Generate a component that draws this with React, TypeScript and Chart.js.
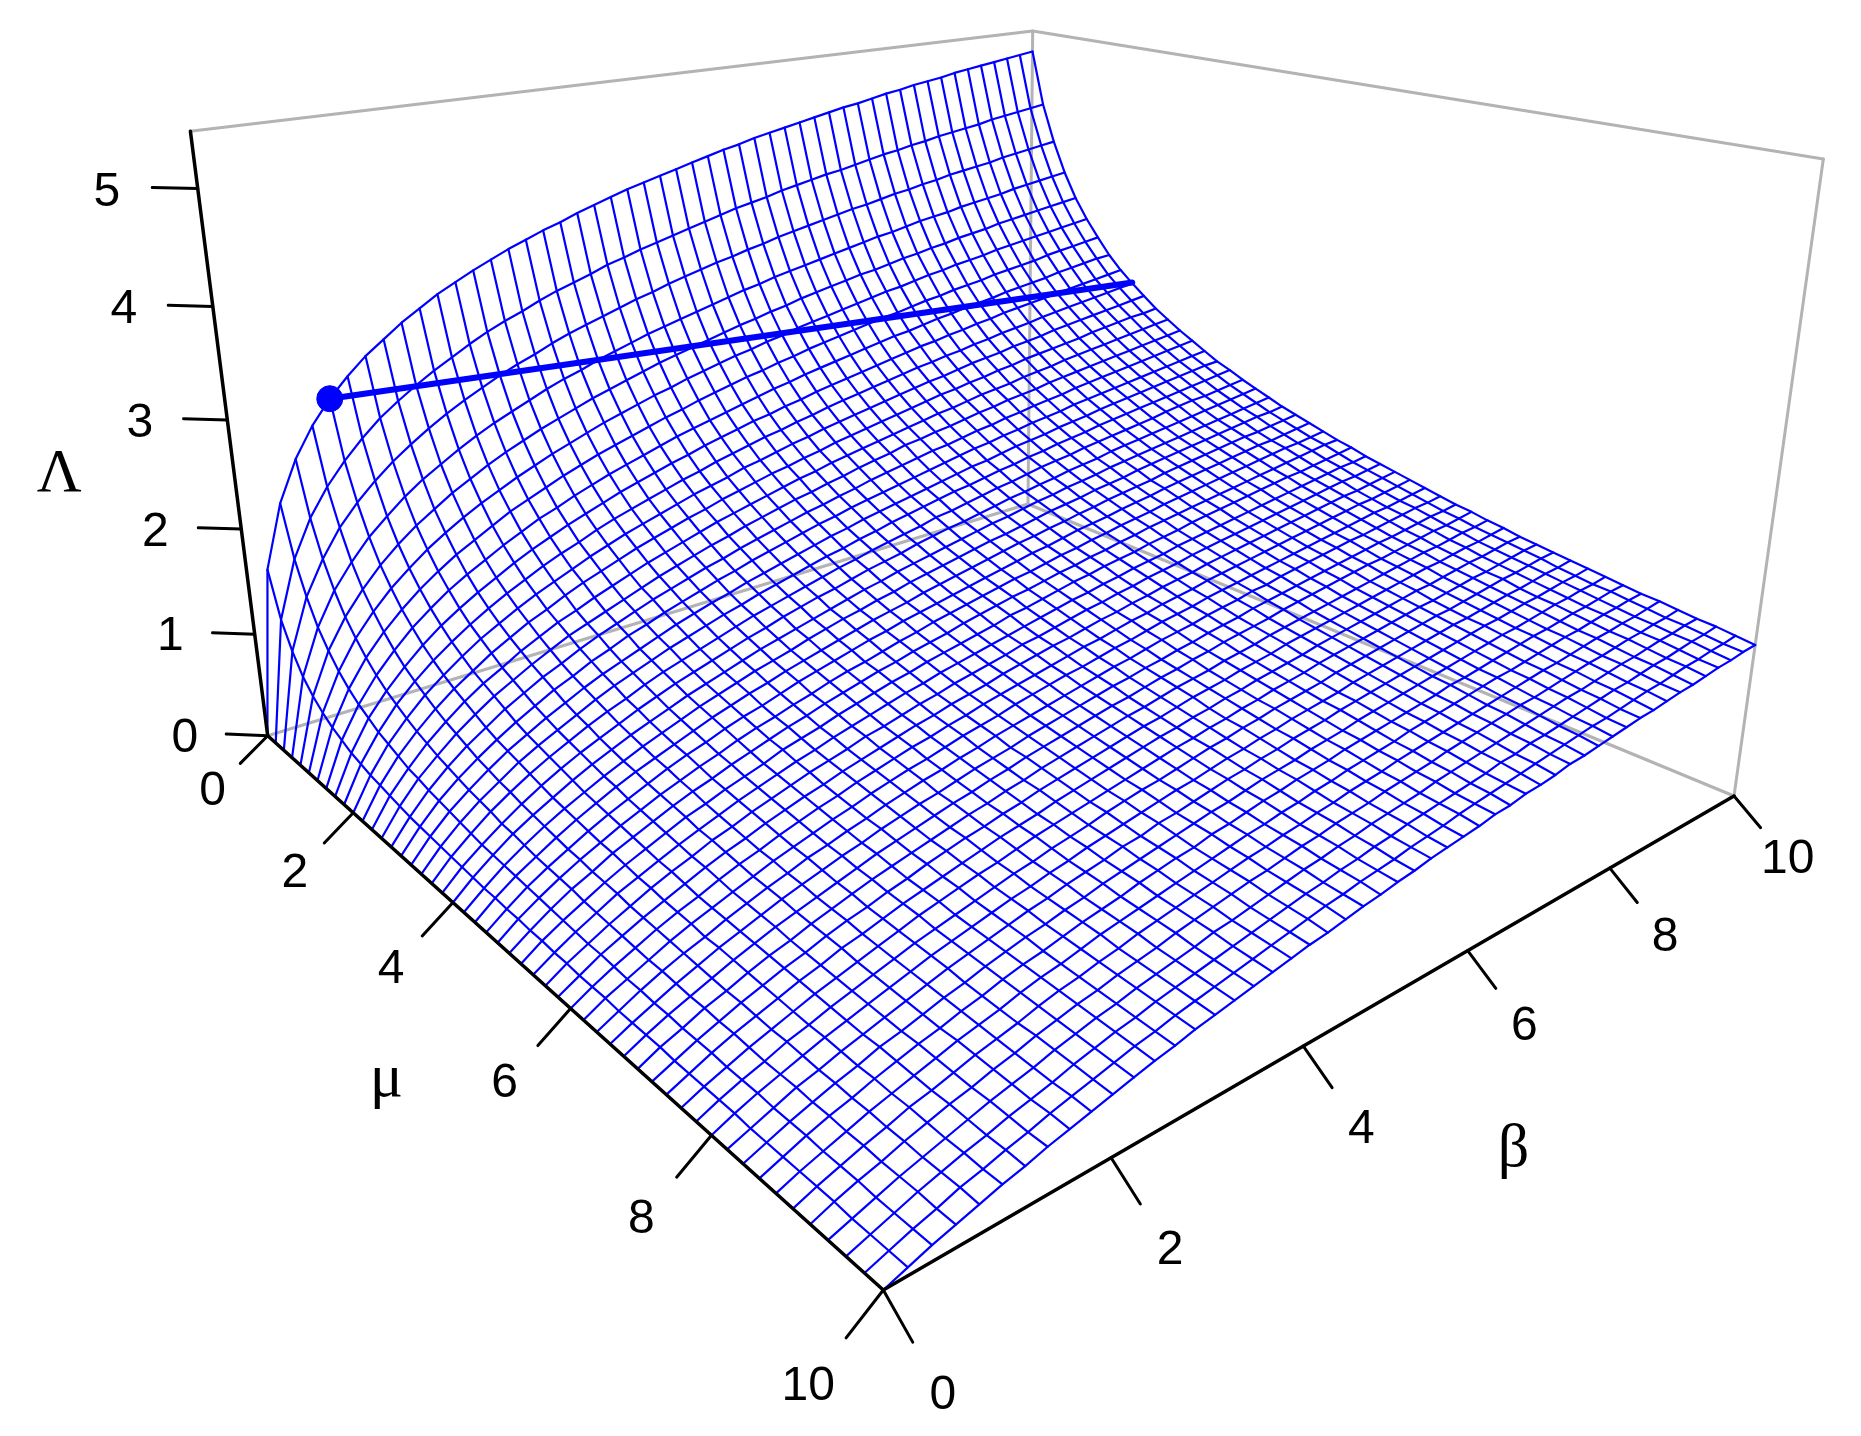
import React, { useEffect, useRef } from "react";
import { Chart, registerables } from "chart.js";
Chart.register(...registerables);

const GRID_STEPS = [
  0, 0.2, 0.4, 0.6, 0.8, 1, 1.2, 1.4, 1.6, 1.8, 2, 2.2, 2.4, 2.6, 2.8, 3, 3.2, 3.4, 3.6, 3.8, 4, 4.2, 4.4, 4.6, 4.8, 5,
  5.2, 5.4, 5.6, 5.8, 6, 6.2, 6.4, 6.6, 6.8, 7, 7.2, 7.4, 7.6, 7.8, 8, 8.2, 8.4, 8.6, 8.8, 9, 9.2, 9.4, 9.6, 9.8, 10,
];
const BETA = GRID_STEPS;
const MU = GRID_STEPS;
// Each row is one value of mu, each column one value of beta.
const LAMBDA = [
[0,1.57,2.15,2.52,2.79,3.00,3.17,3.32,3.44,3.56,3.66,
3.76,3.84,3.92,3.99,4.06,4.12,4.18,4.23,4.29,4.34,
4.39,4.44,4.48,4.52,4.56,4.60,4.64,4.68,4.71,4.75,
4.78,4.81,4.84,4.87,4.90,4.93,4.95,4.98,5.01,5.03,
5.06,5.08,5.10,5.13,5.15,5.17,5.19,5.21,5.23,5.25],
[0,1.15,1.68,2.02,2.27,2.47,2.64,2.79,2.91,3.02,3.12,
3.21,3.30,3.38,3.45,3.51,3.58,3.64,3.69,3.74,3.80,
3.84,3.89,3.93,3.97,4.01,4.05,4.09,4.13,4.16,4.19,
4.23,4.26,4.29,4.32,4.34,4.37,4.40,4.43,4.45,4.48,
4.50,4.53,4.55,4.57,4.59,4.62,4.64,4.66,4.68,4.70],
[0,0.91,1.38,1.69,1.94,2.13,2.29,2.43,2.55,2.66,2.76,
2.85,2.93,3.01,3.08,3.14,3.21,3.27,3.32,3.37,3.42,
3.47,3.51,3.56,3.60,3.64,3.68,3.71,3.75,3.78,3.82,
3.85,3.88,3.91,3.94,3.97,3.99,4.02,4.05,4.07,4.10,
4.12,4.15,4.17,4.19,4.21,4.24,4.26,4.28,4.30,4.32],
[0,0.73,1.15,1.45,1.67,1.86,2.01,2.15,2.27,2.37,2.47,
2.56,2.64,2.71,2.78,2.85,2.91,2.96,3.02,3.07,3.12,
3.17,3.21,3.25,3.29,3.33,3.37,3.41,3.44,3.48,3.51,
3.54,3.57,3.60,3.63,3.66,3.69,3.71,3.74,3.77,3.79,
3.81,3.84,3.86,3.88,3.90,3.93,3.95,3.97,3.99,4.01],
[0,0.61,0.99,1.26,1.47,1.65,1.80,1.93,2.04,2.15,2.24,
2.33,2.41,2.48,2.55,2.61,2.67,2.73,2.78,2.83,2.88,
2.93,2.97,3.01,3.05,3.09,3.13,3.16,3.20,3.23,3.27,
3.30,3.33,3.36,3.39,3.41,3.44,3.47,3.49,3.52,3.54,
3.57,3.59,3.61,3.64,3.66,3.68,3.70,3.72,3.74,3.76],
[0,0.52,0.86,1.12,1.32,1.49,1.63,1.76,1.87,1.97,2.06,
2.14,2.22,2.29,2.36,2.42,2.48,2.54,2.59,2.64,2.69,
2.73,2.78,2.82,2.86,2.90,2.93,2.97,3.00,3.04,3.07,
3.10,3.13,3.16,3.19,3.22,3.24,3.27,3.30,3.32,3.35,
3.37,3.39,3.42,3.44,3.46,3.48,3.50,3.52,3.54,3.56],
[0,0.45,0.76,1.00,1.19,1.35,1.49,1.61,1.72,1.81,1.90,
1.99,2.06,2.13,2.20,2.26,2.32,2.37,2.42,2.47,2.52,
2.56,2.61,2.65,2.69,2.73,2.76,2.80,2.83,2.87,2.90,
2.93,2.96,2.99,3.02,3.04,3.07,3.10,3.12,3.15,3.17,
3.19,3.22,3.24,3.26,3.28,3.31,3.33,3.35,3.37,3.39],
[0,0.40,0.68,0.90,1.08,1.24,1.37,1.49,1.59,1.68,1.77,
1.85,1.93,1.99,2.06,2.12,2.18,2.23,2.28,2.33,2.38,
2.42,2.46,2.50,2.54,2.58,2.62,2.65,2.69,2.72,2.75,
2.78,2.81,2.84,2.87,2.89,2.92,2.95,2.97,3.00,3.02,
3.04,3.07,3.09,3.11,3.13,3.16,3.18,3.20,3.22,3.23],
[0,0.35,0.62,0.82,0.99,1.14,1.27,1.38,1.48,1.57,1.66,
1.74,1.81,1.88,1.94,2.00,2.06,2.11,2.16,2.21,2.25,
2.30,2.34,2.38,2.42,2.45,2.49,2.52,2.56,2.59,2.62,
2.65,2.68,2.71,2.74,2.77,2.79,2.82,2.84,2.87,2.89,
2.92,2.94,2.96,2.98,3.00,3.02,3.04,3.06,3.08,3.10],
[0,0.32,0.56,0.76,0.92,1.06,1.18,1.29,1.39,1.48,1.56,
1.64,1.71,1.77,1.84,1.90,1.95,2.00,2.05,2.10,2.14,
2.19,2.23,2.27,2.31,2.34,2.38,2.41,2.45,2.48,2.51,
2.54,2.57,2.60,2.63,2.65,2.68,2.70,2.73,2.75,2.78,
2.80,2.82,2.85,2.87,2.89,2.91,2.93,2.95,2.97,2.99],
[0,0.29,0.52,0.70,0.86,0.99,1.11,1.22,1.31,1.40,1.48,
1.55,1.62,1.69,1.75,1.81,1.86,1.91,1.96,2.01,2.05,
2.09,2.14,2.17,2.21,2.25,2.28,2.32,2.35,2.38,2.41,
2.44,2.47,2.50,2.53,2.55,2.58,2.61,2.63,2.65,2.68,
2.70,2.72,2.75,2.77,2.79,2.81,2.83,2.85,2.87,2.89],
[0,0.27,0.48,0.65,0.80,0.93,1.04,1.15,1.24,1.33,1.40,
1.48,1.55,1.61,1.67,1.73,1.78,1.83,1.88,1.92,1.97,
2.01,2.05,2.09,2.12,2.16,2.19,2.23,2.26,2.29,2.32,
2.35,2.38,2.41,2.44,2.46,2.49,2.51,2.54,2.56,2.59,
2.61,2.63,2.65,2.67,2.70,2.72,2.74,2.76,2.77,2.79],
[0,0.25,0.44,0.61,0.75,0.88,0.99,1.08,1.18,1.26,1.34,
1.40,1.47,1.53,1.59,1.65,1.70,1.75,1.80,1.85,1.89,
1.93,1.97,2.01,2.05,2.08,2.12,2.15,2.18,2.21,2.24,
2.27,2.30,2.33,2.35,2.38,2.41,2.43,2.45,2.48,2.50,
2.52,2.55,2.57,2.59,2.61,2.63,2.65,2.67,2.69,2.71],
[0,0.23,0.42,0.57,0.71,0.83,0.94,1.03,1.12,1.20,1.28,
1.34,1.40,1.46,1.52,1.58,1.63,1.68,1.73,1.77,1.82,
1.86,1.90,1.94,1.97,2.01,2.04,2.08,2.11,2.14,2.18,
2.20,2.23,2.25,2.28,2.31,2.33,2.36,2.38,2.40,2.43,
2.45,2.47,2.49,2.51,2.53,2.55,2.57,2.59,2.61,2.63],
[0,0.21,0.39,0.54,0.67,0.78,0.89,0.98,1.07,1.14,1.22,
1.29,1.35,1.41,1.47,1.52,1.57,1.62,1.66,1.71,1.75,
1.79,1.83,1.87,1.90,1.94,1.97,2.01,2.04,2.07,2.10,
2.13,2.15,2.18,2.21,2.23,2.26,2.28,2.31,2.33,2.35,
2.38,2.40,2.42,2.44,2.46,2.48,2.50,2.52,2.54,2.56],
[0,0.20,0.37,0.51,0.63,0.74,0.84,0.93,1.02,1.09,1.17,
1.23,1.30,1.35,1.41,1.46,1.51,1.56,1.60,1.65,1.69,
1.73,1.77,1.81,1.84,1.88,1.91,1.94,1.97,2.00,2.03,
2.06,2.09,2.12,2.14,2.17,2.19,2.22,2.24,2.26,2.29,
2.31,2.33,2.35,2.37,2.39,2.41,2.43,2.45,2.47,2.49],
[0,0.19,0.35,0.48,0.60,0.71,0.80,0.89,0.97,1.05,1.12,
1.18,1.24,1.30,1.36,1.41,1.46,1.50,1.55,1.59,1.63,
1.67,1.71,1.75,1.78,1.82,1.85,1.88,1.91,1.94,1.97,
2.00,2.03,2.05,2.08,2.11,2.13,2.15,2.18,2.20,2.22,
2.25,2.27,2.29,2.31,2.33,2.35,2.37,2.39,2.41,2.42],
[0,0.18,0.33,0.46,0.57,0.68,0.77,0.85,0.93,1.01,1.08,
1.14,1.20,1.26,1.31,1.36,1.41,1.45,1.50,1.54,1.58,
1.62,1.66,1.69,1.73,1.76,1.80,1.83,1.86,1.89,1.92,
1.94,1.97,2.00,2.02,2.05,2.07,2.10,2.12,2.14,2.17,
2.19,2.21,2.23,2.25,2.27,2.29,2.31,2.33,2.35,2.37],
[0,0.17,0.31,0.44,0.55,0.65,0.74,0.82,0.90,0.97,1.03,
1.10,1.16,1.21,1.26,1.31,1.36,1.41,1.45,1.49,1.53,
1.57,1.61,1.64,1.68,1.71,1.74,1.77,1.81,1.83,1.86,
1.89,1.92,1.94,1.97,2.00,2.02,2.04,2.07,2.09,2.11,
2.13,2.15,2.17,2.20,2.22,2.24,2.25,2.27,2.29,2.31],
[0,0.16,0.29,0.41,0.52,0.62,0.71,0.79,0.86,0.93,1.00,
1.06,1.12,1.17,1.22,1.27,1.32,1.36,1.41,1.45,1.49,
1.52,1.56,1.60,1.63,1.66,1.70,1.73,1.76,1.78,1.81,
1.84,1.87,1.89,1.92,1.94,1.97,1.99,2.01,2.04,2.06,
2.08,2.10,2.12,2.14,2.16,2.18,2.20,2.22,2.24,2.26],
[0,0.15,0.28,0.40,0.50,0.59,0.68,0.76,0.83,0.90,0.96,
1.02,1.08,1.13,1.18,1.23,1.28,1.32,1.36,1.40,1.44,
1.48,1.52,1.55,1.59,1.62,1.65,1.68,1.71,1.74,1.77,
1.79,1.82,1.85,1.87,1.90,1.92,1.94,1.97,1.99,2.01,
2.03,2.05,2.07,2.09,2.11,2.13,2.15,2.17,2.19,2.21],
[0,0.14,0.27,0.38,0.48,0.57,0.65,0.73,0.80,0.87,0.93,
0.99,1.05,1.10,1.15,1.20,1.24,1.28,1.33,1.37,1.41,
1.44,1.48,1.51,1.55,1.58,1.61,1.64,1.67,1.70,1.72,
1.75,1.78,1.81,1.83,1.85,1.88,1.90,1.92,1.95,1.97,
1.99,2.01,2.03,2.05,2.07,2.09,2.11,2.13,2.14,2.16],
[0,0.14,0.26,0.36,0.46,0.55,0.63,0.71,0.78,0.84,0.90,
0.96,1.02,1.07,1.12,1.16,1.21,1.25,1.29,1.33,1.37,
1.41,1.44,1.47,1.51,1.54,1.57,1.60,1.63,1.66,1.69,
1.71,1.74,1.76,1.79,1.81,1.84,1.86,1.88,1.90,1.93,
1.95,1.97,1.99,2.01,2.03,2.05,2.06,2.08,2.10,2.12],
[0,0.13,0.25,0.35,0.44,0.53,0.61,0.68,0.75,0.82,0.88,
0.93,0.99,1.04,1.08,1.13,1.18,1.22,1.26,1.30,1.34,
1.37,1.41,1.44,1.47,1.50,1.53,1.56,1.59,1.62,1.65,
1.67,1.70,1.73,1.75,1.77,1.80,1.82,1.84,1.87,1.89,
1.91,1.93,1.95,1.97,1.99,2.01,2.02,2.04,2.06,2.08],
[0,0.13,0.24,0.34,0.43,0.51,0.59,0.66,0.73,0.79,0.85,
0.90,0.96,1.01,1.05,1.10,1.14,1.19,1.23,1.26,1.30,
1.34,1.37,1.41,1.44,1.47,1.50,1.53,1.56,1.58,1.61,
1.64,1.66,1.69,1.71,1.74,1.76,1.78,1.81,1.83,1.85,
1.87,1.89,1.91,1.93,1.95,1.97,1.99,2.00,2.02,2.04],
[0,0.12,0.23,0.33,0.41,0.50,0.57,0.64,0.71,0.77,0.82,
0.88,0.93,0.98,1.03,1.07,1.12,1.16,1.20,1.24,1.27,
1.31,1.34,1.37,1.41,1.44,1.47,1.50,1.52,1.55,1.58,
1.60,1.63,1.65,1.68,1.70,1.73,1.75,1.77,1.79,1.81,
1.83,1.85,1.87,1.89,1.91,1.93,1.95,1.97,1.99,2.00],
[0,0.12,0.22,0.31,0.40,0.48,0.55,0.62,0.69,0.74,0.80,
0.85,0.90,0.96,1.00,1.04,1.09,1.13,1.17,1.21,1.24,
1.28,1.31,1.34,1.37,1.40,1.44,1.46,1.49,1.52,1.55,
1.57,1.60,1.62,1.64,1.67,1.69,1.71,1.74,1.76,1.78,
1.80,1.82,1.84,1.86,1.88,1.89,1.91,1.93,1.95,1.97],
[0,0.11,0.21,0.30,0.39,0.46,0.53,0.60,0.66,0.72,0.78,
0.83,0.88,0.93,0.97,1.02,1.06,1.10,1.14,1.18,1.21,
1.25,1.28,1.31,1.34,1.37,1.40,1.43,1.46,1.49,1.51,
1.54,1.56,1.59,1.61,1.63,1.66,1.68,1.70,1.72,1.74,
1.76,1.78,1.80,1.82,1.84,1.86,1.88,1.90,1.91,1.93],
[0,0.11,0.20,0.29,0.37,0.45,0.52,0.58,0.65,0.70,0.76,
0.81,0.86,0.91,0.95,0.99,1.04,1.07,1.11,1.15,1.18,
1.22,1.25,1.28,1.31,1.35,1.37,1.40,1.43,1.46,1.48,
1.51,1.53,1.56,1.58,1.60,1.63,1.65,1.67,1.69,1.71,
1.73,1.75,1.77,1.79,1.81,1.83,1.85,1.86,1.88,1.90],
[0,0.10,0.20,0.28,0.36,0.43,0.50,0.57,0.63,0.68,0.74,
0.79,0.84,0.88,0.93,0.97,1.01,1.05,1.09,1.12,1.16,
1.19,1.22,1.26,1.29,1.32,1.35,1.37,1.40,1.43,1.45,
1.48,1.50,1.53,1.55,1.57,1.60,1.62,1.64,1.66,1.68,
1.70,1.72,1.74,1.76,1.78,1.80,1.81,1.83,1.85,1.87],
[0,0.10,0.19,0.27,0.35,0.42,0.48,0.55,0.61,0.66,0.72,
0.77,0.82,0.86,0.91,0.95,0.99,1.03,1.06,1.10,1.13,
1.17,1.20,1.23,1.26,1.29,1.32,1.35,1.37,1.40,1.43,
1.45,1.48,1.50,1.52,1.55,1.57,1.59,1.61,1.63,1.65,
1.67,1.69,1.71,1.73,1.75,1.77,1.78,1.80,1.82,1.84],
[0,0.10,0.18,0.26,0.34,0.41,0.47,0.53,0.59,0.65,0.70,
0.75,0.80,0.84,0.89,0.93,0.97,1.00,1.04,1.08,1.11,
1.14,1.18,1.21,1.24,1.27,1.29,1.32,1.35,1.37,1.40,
1.43,1.45,1.47,1.50,1.52,1.54,1.56,1.58,1.60,1.62,
1.64,1.66,1.68,1.70,1.72,1.74,1.75,1.77,1.79,1.81],
[0,0.09,0.18,0.26,0.33,0.39,0.46,0.52,0.58,0.63,0.69,
0.73,0.78,0.82,0.87,0.91,0.95,0.98,1.02,1.05,1.09,
1.12,1.15,1.18,1.21,1.24,1.27,1.30,1.32,1.35,1.38,
1.40,1.42,1.45,1.47,1.49,1.52,1.53,1.56,1.58,1.60,
1.62,1.64,1.66,1.67,1.69,1.71,1.73,1.75,1.76,1.78],
[0,0.09,0.17,0.25,0.32,0.39,0.45,0.51,0.57,0.62,0.67,
0.72,0.76,0.81,0.85,0.89,0.92,0.96,1.00,1.03,1.06,
1.10,1.13,1.16,1.19,1.22,1.25,1.27,1.30,1.32,1.35,
1.37,1.40,1.42,1.44,1.47,1.49,1.51,1.53,1.55,1.57,
1.59,1.61,1.63,1.65,1.66,1.68,1.70,1.72,1.73,1.75],
[0,0.09,0.17,0.24,0.31,0.38,0.44,0.50,0.55,0.60,0.65,
0.70,0.75,0.79,0.83,0.87,0.91,0.94,0.98,1.01,1.05,
1.08,1.11,1.14,1.17,1.20,1.22,1.25,1.28,1.30,1.33,
1.35,1.38,1.40,1.42,1.44,1.47,1.49,1.51,1.53,1.55,
1.57,1.59,1.60,1.62,1.64,1.66,1.68,1.69,1.71,1.73],
[0,0.09,0.16,0.24,0.30,0.37,0.43,0.48,0.54,0.59,0.64,
0.69,0.73,0.77,0.81,0.85,0.89,0.92,0.96,0.99,1.03,
1.06,1.09,1.12,1.15,1.18,1.20,1.23,1.26,1.28,1.30,
1.33,1.35,1.37,1.40,1.42,1.44,1.46,1.48,1.50,1.52,
1.54,1.56,1.58,1.60,1.62,1.63,1.65,1.67,1.68,1.70],
[0,0.08,0.16,0.23,0.30,0.36,0.42,0.47,0.53,0.58,0.62,
0.67,0.71,0.76,0.80,0.84,0.87,0.91,0.94,0.98,1.01,
1.04,1.07,1.10,1.13,1.16,1.18,1.21,1.24,1.26,1.28,
1.31,1.33,1.35,1.38,1.40,1.42,1.44,1.46,1.48,1.50,
1.52,1.54,1.56,1.58,1.59,1.61,1.63,1.64,1.66,1.68],
[0,0.08,0.16,0.23,0.29,0.35,0.41,0.46,0.52,0.56,0.61,
0.66,0.70,0.74,0.78,0.82,0.86,0.89,0.92,0.96,0.99,
1.02,1.05,1.08,1.11,1.14,1.16,1.19,1.21,1.24,1.26,
1.29,1.31,1.33,1.35,1.38,1.40,1.42,1.44,1.46,1.48,
1.50,1.52,1.53,1.55,1.57,1.59,1.60,1.62,1.64,1.65],
[0,0.08,0.15,0.22,0.28,0.34,0.40,0.45,0.50,0.55,0.60,
0.65,0.69,0.73,0.77,0.80,0.84,0.88,0.91,0.94,0.97,
1.00,1.03,1.06,1.09,1.12,1.14,1.17,1.19,1.22,1.24,
1.27,1.29,1.31,1.34,1.36,1.38,1.40,1.42,1.44,1.46,
1.48,1.49,1.51,1.53,1.55,1.56,1.58,1.60,1.62,1.63],
[0,0.08,0.15,0.21,0.28,0.33,0.39,0.44,0.49,0.54,0.59,
0.63,0.67,0.71,0.75,0.79,0.82,0.86,0.89,0.92,0.96,
0.99,1.02,1.04,1.07,1.10,1.13,1.15,1.18,1.20,1.23,
1.25,1.27,1.29,1.32,1.34,1.36,1.38,1.40,1.42,1.44,
1.46,1.47,1.49,1.51,1.53,1.55,1.56,1.58,1.60,1.61],
[0,0.08,0.15,0.21,0.27,0.33,0.38,0.43,0.48,0.53,0.58,
0.62,0.66,0.70,0.74,0.77,0.81,0.84,0.88,0.91,0.94,
0.97,1.00,1.03,1.05,1.08,1.11,1.13,1.16,1.18,1.21,
1.23,1.25,1.27,1.30,1.32,1.34,1.36,1.38,1.40,1.42,
1.44,1.45,1.47,1.49,1.51,1.52,1.54,1.56,1.57,1.59],
[0,0.07,0.14,0.21,0.26,0.32,0.37,0.42,0.47,0.52,0.57,
0.61,0.65,0.69,0.73,0.76,0.80,0.83,0.86,0.90,0.92,
0.96,0.98,1.01,1.04,1.07,1.09,1.12,1.14,1.17,1.19,
1.21,1.24,1.26,1.28,1.30,1.32,1.34,1.36,1.38,1.40,
1.42,1.44,1.45,1.47,1.49,1.50,1.52,1.54,1.55,1.57],
[0,0.07,0.14,0.20,0.26,0.31,0.37,0.41,0.46,0.51,0.55,
0.60,0.64,0.68,0.71,0.75,0.78,0.82,0.85,0.88,0.91,
0.94,0.97,1.00,1.02,1.05,1.08,1.10,1.12,1.15,1.17,
1.19,1.22,1.24,1.26,1.28,1.30,1.32,1.34,1.36,1.38,
1.40,1.42,1.43,1.45,1.47,1.49,1.50,1.52,1.53,1.55],
[0,0.07,0.14,0.20,0.25,0.31,0.36,0.41,0.45,0.50,0.54,
0.59,0.63,0.66,0.70,0.74,0.77,0.80,0.84,0.87,0.90,
0.92,0.96,0.98,1.01,1.04,1.06,1.09,1.11,1.13,1.16,
1.18,1.20,1.22,1.24,1.26,1.28,1.31,1.32,1.34,1.36,
1.38,1.40,1.42,1.43,1.45,1.47,1.48,1.50,1.52,1.53],
[0,0.07,0.13,0.19,0.25,0.30,0.35,0.40,0.45,0.49,0.53,
0.58,0.62,0.65,0.69,0.73,0.76,0.79,0.82,0.85,0.88,
0.91,0.94,0.97,0.99,1.02,1.04,1.07,1.09,1.12,1.14,
1.16,1.18,1.21,1.23,1.25,1.27,1.29,1.31,1.33,1.34,
1.36,1.38,1.40,1.42,1.43,1.45,1.47,1.48,1.50,1.51],
[0,0.07,0.13,0.19,0.24,0.30,0.34,0.39,0.44,0.48,0.52,
0.57,0.61,0.64,0.68,0.71,0.75,0.78,0.81,0.84,0.87,
0.90,0.93,0.95,0.98,1.00,1.03,1.05,1.08,1.10,1.12,
1.15,1.17,1.19,1.21,1.23,1.25,1.27,1.29,1.31,1.33,
1.35,1.36,1.38,1.40,1.42,1.43,1.45,1.46,1.48,1.50],
[0,0.07,0.13,0.18,0.24,0.29,0.34,0.38,0.43,0.47,0.52,
0.56,0.60,0.63,0.67,0.70,0.73,0.77,0.80,0.83,0.86,
0.89,0.91,0.94,0.97,0.99,1.02,1.04,1.06,1.09,1.11,
1.13,1.15,1.18,1.20,1.22,1.24,1.26,1.28,1.29,1.31,
1.33,1.35,1.37,1.38,1.40,1.42,1.43,1.45,1.46,1.48],
[0,0.06,0.12,0.18,0.23,0.28,0.33,0.38,0.42,0.46,0.51,
0.55,0.59,0.62,0.66,0.69,0.72,0.75,0.79,0.81,0.84,
0.87,0.90,0.93,0.95,0.98,1.00,1.03,1.05,1.07,1.09,
1.12,1.14,1.16,1.18,1.20,1.22,1.24,1.26,1.28,1.30,
1.31,1.33,1.35,1.37,1.38,1.40,1.42,1.43,1.45,1.46],
[0,0.06,0.12,0.18,0.23,0.28,0.32,0.37,0.41,0.45,0.50,
0.54,0.58,0.61,0.65,0.68,0.71,0.74,0.77,0.80,0.83,
0.86,0.89,0.91,0.94,0.96,0.99,1.01,1.04,1.06,1.08,
1.10,1.12,1.14,1.17,1.18,1.21,1.22,1.24,1.26,1.28,
1.30,1.32,1.33,1.35,1.37,1.38,1.40,1.42,1.43,1.45],
[0,0.06,0.12,0.17,0.23,0.27,0.32,0.36,0.41,0.45,0.49,
0.53,0.57,0.60,0.64,0.67,0.70,0.73,0.76,0.79,0.82,
0.85,0.88,0.90,0.93,0.95,0.97,1.00,1.02,1.04,1.07,
1.09,1.11,1.13,1.15,1.17,1.19,1.21,1.23,1.25,1.26,
1.28,1.30,1.32,1.33,1.35,1.37,1.38,1.40,1.41,1.43],
[0,0.06,0.12,0.17,0.22,0.27,0.31,0.36,0.40,0.44,0.48,
0.52,0.56,0.59,0.63,0.66,0.69,0.72,0.75,0.78,0.81,
0.83,0.86,0.89,0.91,0.94,0.96,0.99,1.01,1.03,1.05,
1.08,1.09,1.12,1.13,1.15,1.18,1.19,1.21,1.23,1.25,
1.27,1.28,1.30,1.32,1.33,1.35,1.37,1.38,1.40,1.41],
];
const AXIS_TICKS = [0, 2, 4, 6, 8, 10];
const LAMBDA_TICKS = [0, 1, 2, 3, 4, 5];
const CONTOUR_BETA = [1, 10];
const CONTOUR_MU = [0, 1.8];
const CONTOUR_LAMBDA = [3, 3];

const TOP = 5.47;
function project(b: number, m: number, l: number) {
  const u = b / 10, v = m / 10, t = l / TOP;
  const w = 0.29888 * u - 0.35431 * v - 0.099 * t + 1;
  return {
    x: (1067.55 * u + 302.64 * v - 96.14 * t + 267.7) / w,
    y: (-81.06 * u + 97.24 * v - 617.41 * t + 735.7) / w,
  };
}
const line = (pts: number[][], color: string, width: number, order = 1) => ({
  type: "scatter" as const, showLine: true, pointRadius: 0, borderColor: color, borderWidth: width, order,
  borderJoinStyle: "round", borderCapStyle: "round",
  data: pts.map((p) => project(p[0], p[1], p[2])),
});

export default function App() {
  const ref = useRef<HTMLCanvasElement>(null);
  useEffect(() => {
    const ds: any[] = [];
    const GRAY = "#b3b3b3", BLUE = "#0000ff", BLACK = "#000000";
    [[[0,0,TOP],[10,0,TOP],[10,10,TOP]],[[0,0,0],[10,0,0],[10,10,0]],[[10,0,0],[10,0,TOP]],[[10,10,0],[10,10,TOP]]].forEach((p) => ds.push(line(p, GRAY, 3, 5)));
    MU.forEach((m, j) => ds.push(line(BETA.map((b, i) => [b, m, LAMBDA[j][i]]), BLUE, 2.2, 3)));
    BETA.forEach((b, i) => ds.push(line(MU.map((m, j) => [b, m, LAMBDA[j][i]]), BLUE, 2.2, 3)));
    ds.push(line([[0,0,0],[0,10,0],[10,10,0]], BLACK, 3.5, 2));
    ds.push(line([[0,0,0],[0,0,TOP]], BLACK, 3.5, 2));
    AXIS_TICKS.forEach((m) => ds.push(line([[0,m,0],[-0.3,m,-0.034*TOP]], BLACK, 3, 2)));
    AXIS_TICKS.forEach((b) => ds.push(line([[b,10,0],[b,10.3,-0.034*TOP]], BLACK, 3, 2)));
    LAMBDA_TICKS.forEach((l) => ds.push(line([[0,0,l],[-0.3,-0.3,l]], BLACK, 3, 2)));
    ds.push(line(CONTOUR_BETA.map((b, i) => [b, CONTOUR_MU[i], CONTOUR_LAMBDA[i]]), BLUE, 6, 1));
    ds.push({ type: "scatter", order: 0, pointRadius: 13, backgroundColor: BLUE, borderColor: BLUE, data: [project(CONTOUR_BETA[0], CONTOUR_MU[0], CONTOUR_LAMBDA[0])] });
    const labels = {
      id: "labels",
      afterDraw(c: any) {
        const g = c.ctx; g.save(); g.fillStyle = "#000"; g.textAlign = "center"; g.textBaseline = "middle";
        const put = (s: string, p: {x:number;y:number}, font: string, dx = 0, dy = 0) => { g.font = font; g.fillText(s, p.x + dx, p.y + dy); };
        const NUM = '48px "Liberation Sans"', SYM = '62px "Liberation Serif"';
        AXIS_TICKS.forEach((m) => put(String(m), project(-0.6, m, -0.068*TOP), NUM));
        AXIS_TICKS.forEach((b) => put(String(b), project(b, 10.6, -0.068*TOP), NUM));
        LAMBDA_TICKS.forEach((l) => put(String(l), project(-0.6, -0.6, l), NUM, 0, 6));
        put("μ", project(-1.15, 5, -0.131*TOP), SYM, 1, -11);
        put("β", project(5, 11.15, -0.131*TOP), SYM, 13, -3);
        put("Λ", project(-1.25, -1.25, 0.45*TOP), SYM, 4, 1);
        g.restore();
      },
    };
    const chart = new Chart(ref.current!, {
      type: "scatter",
      data: { datasets: ds },
      plugins: [labels],
      options: {
        animation: false, responsive: false, layout: { padding: 0, autoPadding: false },
        plugins: { legend: { display: false }, tooltip: { enabled: false } },
        scales: { x: { type: "linear", min: 0, max: 1861, display: false }, y: { type: "linear", min: 0, max: 1436, reverse: true, display: false } },
      },
    } as any);
    return () => chart.destroy();
  }, []);
  return <canvas ref={ref} width={1861} height={1436} style={{ position: "absolute", left: 0, top: 0, display: "block" }} />;
}
